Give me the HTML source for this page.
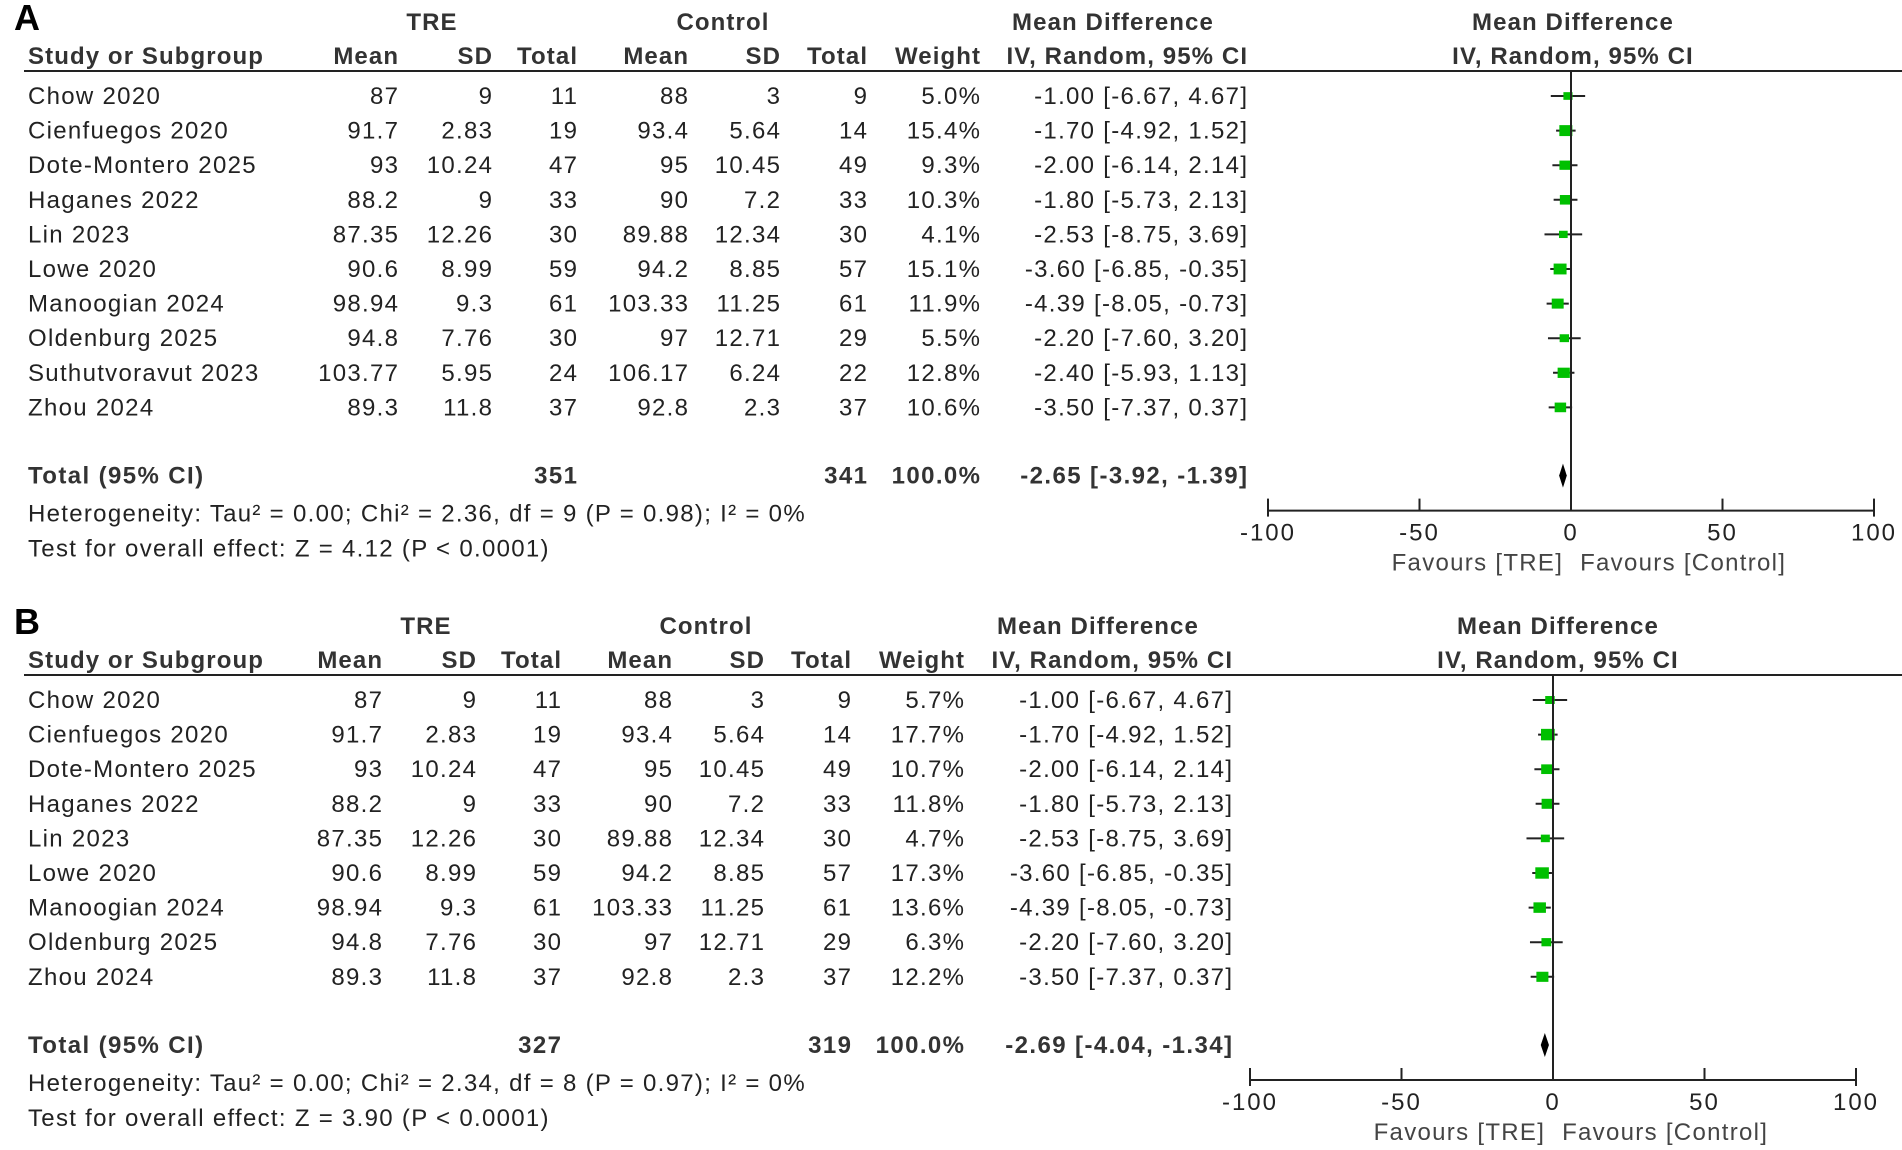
<!DOCTYPE html>
<html><head><meta charset="utf-8"><style>
html,body{margin:0;padding:0;background:#fff;}
svg{display:block;font-family:"Liberation Sans",Arial,sans-serif;}
</style></head><body>
<svg id="chart" width="1902" height="1150" viewBox="0 0 1902 1150" xmlns="http://www.w3.org/2000/svg"></svg>
<script>
// ----- Panel A data -----
const studiesA = ["Chow 2020","Cienfuegos 2020","Dote-Montero 2025","Haganes 2022","Lin 2023","Lowe 2020","Manoogian 2024","Oldenburg 2025","Suthutvoravut 2023","Zhou 2024"];
const treMeanA = ["87","91.7","93","88.2","87.35","90.6","98.94","94.8","103.77","89.3"];
const treSdA = ["9","2.83","10.24","9","12.26","8.99","9.3","7.76","5.95","11.8"];
const treNA = ["11","19","47","33","30","59","61","30","24","37"];
const ctlMeanA = ["88","93.4","95","90","89.88","94.2","103.33","97","106.17","92.8"];
const ctlSdA = ["3","5.64","10.45","7.2","12.34","8.85","11.25","12.71","6.24","2.3"];
const ctlNA = ["9","14","49","33","30","57","61","29","22","37"];
const weightA = [5.0,15.4,9.3,10.3,4.1,15.1,11.9,5.5,12.8,10.6];
const mdA = [-1.00,-1.70,-2.00,-1.80,-2.53,-3.60,-4.39,-2.20,-2.40,-3.50];
const loA = [-6.67,-4.92,-6.14,-5.73,-8.75,-6.85,-8.05,-7.60,-5.93,-7.37];
const hiA = [4.67,1.52,2.14,2.13,3.69,-0.35,-0.73,3.20,1.13,0.37];
const totalA = {tre:"351", ctl:"341", md:-2.65, lo:-3.92, hi:-1.39};
const hetA = "Heterogeneity: Tau\u00B2 = 0.00; Chi\u00B2 = 2.36, df = 9 (P = 0.98); I\u00B2 = 0%";
const testA = "Test for overall effect: Z = 4.12 (P < 0.0001)";

// ----- Panel B data -----
const studiesB = ["Chow 2020","Cienfuegos 2020","Dote-Montero 2025","Haganes 2022","Lin 2023","Lowe 2020","Manoogian 2024","Oldenburg 2025","Zhou 2024"];
const treMeanB = ["87","91.7","93","88.2","87.35","90.6","98.94","94.8","89.3"];
const treSdB = ["9","2.83","10.24","9","12.26","8.99","9.3","7.76","11.8"];
const treNB = ["11","19","47","33","30","59","61","30","37"];
const ctlMeanB = ["88","93.4","95","90","89.88","94.2","103.33","97","92.8"];
const ctlSdB = ["3","5.64","10.45","7.2","12.34","8.85","11.25","12.71","2.3"];
const ctlNB = ["9","14","49","33","30","57","61","29","37"];
const weightB = [5.7,17.7,10.7,11.8,4.7,17.3,13.6,6.3,12.2];
const mdB = [-1.00,-1.70,-2.00,-1.80,-2.53,-3.60,-4.39,-2.20,-3.50];
const loB = [-6.67,-4.92,-6.14,-5.73,-8.75,-6.85,-8.05,-7.60,-7.37];
const hiB = [4.67,1.52,2.14,2.13,3.69,-0.35,-0.73,3.20,0.37];
const totalB = {tre:"327", ctl:"319", md:-2.69, lo:-4.04, hi:-1.34};
const hetB = "Heterogeneity: Tau\u00B2 = 0.00; Chi\u00B2 = 2.34, df = 8 (P = 0.97); I\u00B2 = 0%";
const testB = "Test for overall effect: Z = 3.90 (P < 0.0001)";

const axisTicks = [-100,-50,0,50,100];

const NS = "http://www.w3.org/2000/svg";
const svg = document.getElementById('chart');
function el(tag, attrs, parent){
  const e = document.createElementNS(NS, tag);
  for (const k in attrs) e.setAttribute(k, attrs[k]);
  (parent||svg).appendChild(e);
  return e;
}
function txt(parent, x, y, s, opts){
  opts = opts||{};
  const ls = opts.ls !== undefined ? opts.ls : 1.3;
  const anchor = opts.anchor||'start';
  let xx = x;
  if (anchor === 'end') xx = x + ls;
  const t = el('text', {x:xx, y:y, 'font-size': opts.size||24, fill: opts.fill||'#222',
    'text-anchor': anchor, 'font-weight': opts.bold?'bold':'normal', 'letter-spacing': ls}, parent);
  t.textContent = s;
  return t;
}
function fmt(v){ return v.toFixed(2); }

function panel(cfg){
  const g = el('g', {});
  
  
  const c = cfg.cols;
  const lt = txt(g, 14, cfg.top + 30, cfg.letter, {size:36, bold:true, fill:'#000', ls:0});
  
  
  const h1 = cfg.top + 30, h2 = cfg.top + 64;
  const hdr = el('g', {}, g);
  
  
  const B = {bold:true, fill:'#333', ls:1.1};
  txt(hdr, c.tre, h1, "TRE", Object.assign({anchor:'middle'}, B));
  txt(hdr, c.ctl, h1, "Control", Object.assign({anchor:'middle'}, B));
  txt(hdr, c.mdh, h1, "Mean Difference", Object.assign({anchor:'middle'}, B));
  txt(hdr, c.plot, h1, "Mean Difference", Object.assign({anchor:'middle'}, B));
  txt(hdr, 28, h2, "Study or Subgroup", B);
  txt(hdr, c.m1, h2, "Mean", Object.assign({anchor:'end'}, B));
  txt(hdr, c.s1, h2, "SD", Object.assign({anchor:'end'}, B));
  txt(hdr, c.n1, h2, "Total", Object.assign({anchor:'end'}, B));
  txt(hdr, c.m2, h2, "Mean", Object.assign({anchor:'end'}, B));
  txt(hdr, c.s2, h2, "SD", Object.assign({anchor:'end'}, B));
  txt(hdr, c.n2, h2, "Total", Object.assign({anchor:'end'}, B));
  txt(hdr, c.w, h2, "Weight", Object.assign({anchor:'end'}, B));
  txt(hdr, c.ci, h2, "IV, Random, 95% CI", Object.assign({anchor:'end'}, B));
  txt(hdr, c.plot, h2, "IV, Random, 95% CI", Object.assign({anchor:'middle'}, B));
  const lineY = cfg.top + 71;
  const hl = el('line', {x1:24, x2:1902, y1:lineY, y2:lineY, stroke:'#222', 'stroke-width':2}, g);
  
  

  const X = v => cfg.x0 + v * cfg.unit;
  const rowY = i => cfg.top + 96 + i * 34.6;
  const d = cfg.data;
  d.studies.forEach((s, i) => {
    const y = rowY(i);
    const r = el('g', {}, g);
    
    
    txt(r, 28, y + 8, s);
    txt(r, c.m1, y + 8, d.m1[i], {anchor:'end'});
    txt(r, c.s1, y + 8, d.s1[i], {anchor:'end'});
    txt(r, c.n1, y + 8, d.n1[i], {anchor:'end'});
    txt(r, c.m2, y + 8, d.m2[i], {anchor:'end'});
    txt(r, c.s2, y + 8, d.s2[i], {anchor:'end'});
    txt(r, c.n2, y + 8, d.n2[i], {anchor:'end'});
    txt(r, c.w, y + 8, d.w[i].toFixed(1) + "%", {anchor:'end'});
    txt(r, c.ci, y + 8, fmt(d.md[i]) + " [" + fmt(d.lo[i]) + ", " + fmt(d.hi[i]) + "]", {anchor:'end'});
    const ci = el('line', {x1:X(d.lo[i]), x2:X(d.hi[i]), y1:y, y2:y, stroke:'#222', 'stroke-width':2}, r);
    
    
    const sz = 4 + Math.sqrt(d.w[i]) * 2.3;
    const sq = el('rect', {x:X(d.md[i]) - sz/2, y:y - sz*0.42, width:sz, height:sz*0.84, fill:'#00c000'}, r);
    
    
  });
  const ty = cfg.top + 96 + 11 * 34.6 - 1 - (d.studies.length === 10 ? 0 : 34.6);
  const tg = el('g', {}, g);
  
  
  const TB = {bold:true, fill:'#333', ls:1.4};
  txt(tg, 28, ty + 8, "Total (95% CI)", TB);
  txt(tg, c.n1, ty + 8, d.total.tre, Object.assign({anchor:'end'}, TB));
  txt(tg, c.n2, ty + 8, d.total.ctl, Object.assign({anchor:'end'}, TB));
  txt(tg, c.w, ty + 8, "100.0%", Object.assign({anchor:'end'}, TB));
  txt(tg, c.ci, ty + 8, fmt(d.total.md) + " [" + fmt(d.total.lo) + ", " + fmt(d.total.hi) + "]", Object.assign({anchor:'end'}, TB));
  const dm = el('polygon', {points: [X(d.total.lo)+','+ty, X(d.total.md)+','+(ty-12), X(d.total.hi)+','+ty, X(d.total.md)+','+(ty+12)].join(' '), fill:'#000'}, tg);
  
  
  const het = txt(g, 28, ty + 46, d.het);
  
  
  const tst = txt(g, 28, ty + 81, d.test);
  
  

  // axis
  const ay = ty + 35;
  const ax = el('g', {}, g);
  
  
  const zl = el('line', {x1:X(0), x2:X(0), y1:lineY, y2:ay, stroke:'#222', 'stroke-width':2}, g);
  
  
  el('line', {x1:X(axisTicks[0]), x2:X(axisTicks[axisTicks.length-1]), y1:ay, y2:ay, stroke:'#222', 'stroke-width':2}, ax);
  axisTicks.forEach((t, k) => {
    const end = (k === 0 || k === axisTicks.length-1);
    el('line', {x1:X(t), x2:X(t), y1:ay - 12, y2:ay + (end?6:0), stroke:'#222', 'stroke-width':2}, ax);
    const lb = txt(ax, X(t), ay + 30, String(t), {anchor:'middle', fill:'#222', ls:2});
    
    
  });
  const f1 = txt(ax, X(-3), ay + 60, "Favours [TRE]", {anchor:'end', fill:'#444'});
  
  
  const f2 = txt(ax, X(3), ay + 60, "Favours [Control]", {fill:'#444'});
  
  
}

panel({letter:"A", top:0, x0:1571, unit:3.03,
  cols:{tre:432, ctl:723, mdh:1113, plot:1573, m1:398, s1:492, n1:577, m2:688, s2:780, n2:867, w:980, ci:1247},
  data:{studies:studiesA, m1:treMeanA, s1:treSdA, n1:treNA, m2:ctlMeanA, s2:ctlSdA, n2:ctlNA, w:weightA, md:mdA, lo:loA, hi:hiA, total:totalA, het:hetA, test:testA}});
panel({letter:"B", top:604, x0:1553, unit:3.03,
  cols:{tre:426, ctl:706, mdh:1098, plot:1558, m1:382, s1:476, n1:561, m2:672, s2:764, n2:851, w:964, ci:1232},
  data:{studies:studiesB, m1:treMeanB, s1:treSdB, n1:treNB, m2:ctlMeanB, s2:ctlSdB, n2:ctlNB, w:weightB, md:mdB, lo:loB, hi:hiB, total:totalB, het:hetB, test:testB}});
</script>
</body></html>
